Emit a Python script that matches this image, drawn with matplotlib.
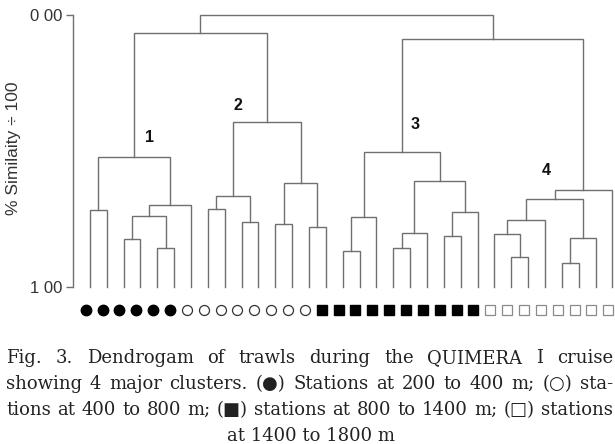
import matplotlib
matplotlib.use("Agg")
import matplotlib.pyplot as plt

# estaciones (hojas) y su clase de profundidad
n_leaves = 32
depth_class = [0] * 6 + [1] * 8 + [2] * 10 + [3] * 8

# uniones: (nodo a, nodo b, altura en % similitud / 100, 0 arriba)
merges = [
    (2, 3, 0.824), (4, 5, 0.857), (32, 33, 0.739), (34, 6, 0.699),
    (0, 1, 0.717), (36, 35, 0.523),
    (7, 8, 0.713), (9, 10, 0.760), (38, 39, 0.665), (11, 12, 0.768),
    (13, 14, 0.779), (41, 42, 0.618), (40, 43, 0.392),
    (37, 44, 0.068),
    (15, 16, 0.868), (46, 17, 0.743), (18, 19, 0.857), (48, 20, 0.801),
    (21, 22, 0.813), (50, 23, 0.724), (49, 51, 0.610), (47, 52, 0.504),
    (25, 26, 0.890), (24, 54, 0.805), (55, 27, 0.754), (28, 29, 0.912),
    (57, 30, 0.820), (56, 58, 0.676), (59, 31, 0.643),
    (53, 60, 0.090),
    (45, 61, 0.000),
]

cluster_names = ["1", "2", "3", "4"]
ytick_vals = [0.0, 1.0]
ytick_labels = ["0 00", "1 00"]

caption_lines = [
    "Fig. 3. Dendrogam of trawls during the QUIMERA I cruise",
    "showing 4 major clusters. (\u25cf) Stations at 200 to 400 m; (\u25cb) sta-",
    "tions at 400 to 800 m; (\u25a0) stations at 800 to 1400 m; (\u25a1) stations",
    "at 1400 to 1800 m",
]

W, H = 615, 444
fig = plt.figure(figsize=(W / 100, H / 100), dpi=100)
ax = fig.add_axes([73 / W, 157 / H, 542 / W, 272 / H])

line_col = "#707070"

# dibujar dendrograma
xpos = {i: float(i) for i in range(n_leaves)}
ypos = {i: 1.0 for i in range(n_leaves)}
for k, (a, b, h) in enumerate(merges):
    node = n_leaves + k
    ax.plot([xpos[a], xpos[a], xpos[b], xpos[b]], [ypos[a], h, h, ypos[b]],
            color=line_col, lw=1.0, clip_on=False, solid_joinstyle="miter")
    xpos[node] = (xpos[a] + xpos[b]) / 2
    ypos[node] = h

# marcadores de profundidad
styles = [
    dict(marker="o", mfc="black", mec="black", ms=7.5),
    dict(marker="o", mfc="white", mec="#333333", ms=7.2, mew=0.9),
    dict(marker="s", mfc="black", mec="black", ms=6.8),
    dict(marker="s", mfc="white", mec="#8a8a8a", ms=6.8, mew=0.9),
]
for i, c in enumerate(depth_class):
    ax.plot(i - 0.25, 1.085, ls="none", clip_on=False, **styles[c])

# etiquetas de grupos
label_pos = [(3.56, 0.449), (8.77, 0.331), (19.27, 0.404), (27.09, 0.570)]
for name, (lx, ly) in zip(cluster_names, label_pos):
    ax.text(lx, ly, name, ha="center", va="center", fontsize=11.5,
            fontweight="bold", family="Liberation Sans", color="#111111")

ax.set_xlim(-1.0, 31.15)
ax.set_ylim(1.0, 0.0)
for s in ["top", "right", "bottom"]:
    ax.spines[s].set_visible(False)
ax.spines["left"].set_color(line_col)
ax.spines["left"].set_linewidth(1.0)
ax.set_xticks([])
ax.set_yticks(ytick_vals)
ax.set_yticklabels(ytick_labels, family="Liberation Sans", fontsize=12,
                   color="#333333")
ax.tick_params(axis="y", length=5, width=1.0, color=line_col, pad=3)
ax.set_ylabel("% Similaity \u00f7 100", family="Liberation Sans",
              fontsize=12.5, color="#333333")
ax.yaxis.set_label_coords(-0.096, 0.51)

# pie de figura justificado
cap_font = ["DejaVu Serif", "DejaVu Sans"]
cap_size = 13
renderer = fig.canvas.get_renderer()
baselines = [363, 389, 415, 441]
x0, x1 = 6, 613
for k, line in enumerate(caption_lines):
    yb = 1 - baselines[k] / H
    if k == len(caption_lines) - 1:
        fig.text(311 / W, yb, line, ha="center", va="baseline",
                 family=cap_font, fontsize=cap_size, color="#222222")
        continue
    words = line.split(" ")
    objs = [fig.text(0, yb, w, ha="left", va="baseline", family=cap_font,
                     fontsize=cap_size, color="#222222") for w in words]
    widths = [t.get_window_extent(renderer=renderer).width for t in objs]
    gap = (x1 - x0 - sum(widths)) / (len(words) - 1)
    x = x0
    for t, w in zip(objs, widths):
        t.set_x(x / W)
        x += w + gap

fig.savefig("out.png", dpi=100)
